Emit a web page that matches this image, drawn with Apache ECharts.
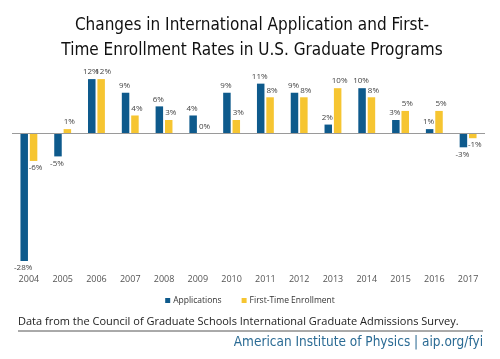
<!DOCTYPE html>
<html>
<head>
<meta charset="utf-8">
<script src="https://cdn.jsdelivr.net/npm/echarts@6/dist/echarts.min.js"></script>
<style>html,body{margin:0;padding:0;background:#fff;}#c{width:500px;height:359px;}</style>
</head>
<body>
<div id="c"></div>
<script>
var years = ['2004','2005','2006','2007','2008','2009','2010','2011','2012','2013','2014','2015','2016','2017'];
var applications = [-28, -5, 12, 9, 6, 4, 9, 11, 9, 2, 10, 3, 1, -3];
var enrollment = [-6, 1, 12, 4, 3, 0, 3, 8, 8, 10, 8, 5, 5, -1];

var COND = "'DejaVu Sans Condensed', 'Liberation Sans Narrow', 'Arial Narrow', sans-serif";
var chart = echarts.init(document.getElementById('c'), null, {renderer: 'canvas'});
function lbl(p) { return p.value + '%'; }
function labelled(arr) {
  return arr.map(function (v) {
    return { value: v, label: { position: v < 0 ? 'bottom' : 'top' } };
  });
}
function labelStyle(dx) {
  return { show: true, formatter: lbl, fontSize: 8, color: '#444', distance: 3, fontFamily: 'Open Sans', offset: [dx, 0] };
}
chart.setOption({
  animation: false,
  backgroundColor: '#fff',
  title: {
    text: 'Changes in International Application and First-\nTime Enrollment Rates in U.S. Graduate Programs',
    left: 247, top: 8, textAlign: 'center',
    textStyle: { fontFamily: COND, fontWeight: 'normal', fontSize: 17, lineHeight: 25, color: '#111' }
  },
  legend: {
    data: ['Applications', 'First-Time Enrollment'],
    top: 291, left: 'center',
    itemWidth: 5, itemHeight: 5, itemGap: 20,
    icon: 'rect',
    textStyle: { fontSize: 8.5, color: '#333', fontFamily: 'Open Sans', padding: [0, 0, 0, -2] }
  },
  grid: { left: 12, width: 473, top: 70, height: 191 },
  xAxis: {
    type: 'category', data: years,
    axisLine: { show: false }, axisTick: { show: false },
    axisLabel: { fontSize: 9, color: '#555', margin: 14, fontFamily: 'Open Sans' }
  },
  yAxis: {
    type: 'value', min: -28, max: 14, show: false,
    splitLine: { show: false }
  },
  series: [
    {
      name: 'Applications', type: 'bar', data: labelled(applications),
      barWidth: 7.5, barGap: '25%',
      itemStyle: { color: '#0e5a8c' },
      label: labelStyle(-1),
      markLine: {
        silent: true, symbol: 'none', label: { show: false },
        lineStyle: { color: '#9a9a9a', type: 'solid', width: 1 },
        data: [{ yAxis: 0 }]
      }
    },
    {
      name: 'First-Time Enrollment', type: 'bar', data: labelled(enrollment),
      barWidth: 7.5,
      itemStyle: { color: '#f6c531' },
      label: labelStyle(2)
    }
  ],
  graphic: [
    { type: 'text', left: 18, top: 316, style: { text: 'Data from the Council of Graduate Schools International Graduate Admissions Survey.', fontSize: 11, fontFamily: 'Open Sans', fill: '#222' } },
    { type: 'line', shape: { x1: 18, y1: 331, x2: 483, y2: 331 }, style: { stroke: '#555', lineWidth: 1 } },
    { type: 'text', right: 17, top: 335, style: { text: 'American Institute of Physics | aip.org/fyi', fontSize: 13.5, fontFamily: COND, fill: '#2b6b94' } }
  ]
});
</script>
</body>
</html>
